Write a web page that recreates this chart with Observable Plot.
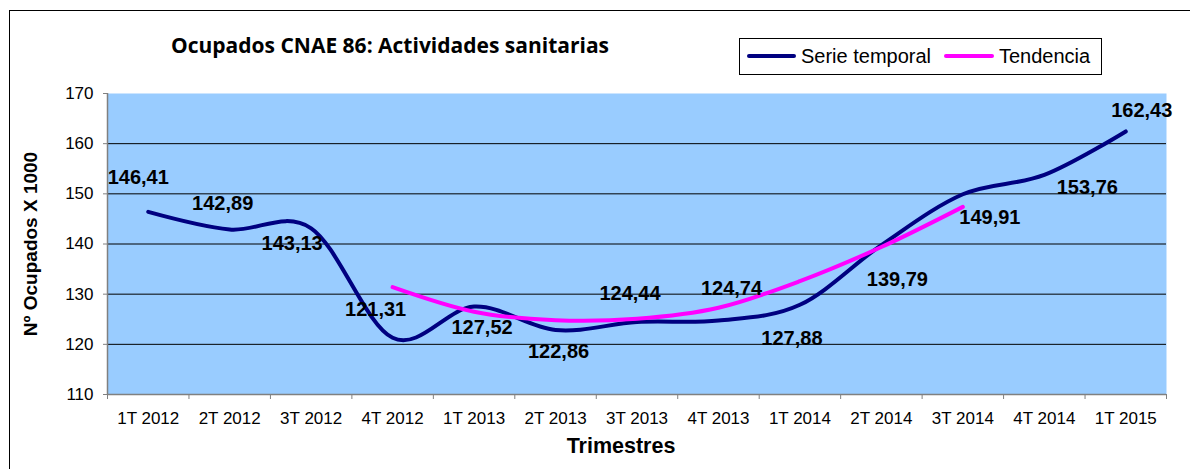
<!DOCTYPE html>
<html>
<head>
<meta charset="utf-8">
<script src="https://cdn.jsdelivr.net/npm/d3@7"></script>
<script src="https://cdn.jsdelivr.net/npm/@observablehq/plot@0.6"></script>
<style>
  html, body { margin: 0; padding: 0; background: #fff; overflow: hidden; }
  #wrap { position: relative; width: 1190px; height: 469px; overflow: hidden; font-family: "Liberation Sans", Arial, sans-serif; }
  #border { position: absolute; left: 9px; top: 10px; width: 1300px; height: 600px; border: 1.5px solid #000; box-sizing: border-box; }
  #chart { position: absolute; left: 0; top: 0; }
  #title { position: absolute; left: 390px; top: 32px; transform: translateX(-50%); white-space: nowrap;
           font-family: "Open Sans", Lato, sans-serif; font-weight: bold; font-size: 21px; line-height: 26px; color: #000; }
  #legend { position: absolute; left: 739px; top: 38px; width: 363px; height: 37px; border: 1px solid #000; background: #fff; box-sizing: border-box; }
  .sw { position: absolute; top: 15px; height: 4px; border-radius: 2px; }
  .lt { position: absolute; top: 5px; font-size: 20px; line-height: 24px; color: #000; white-space: nowrap; }
</style>
</head>
<body>
<div id="wrap">
  <div id="border"></div>
  <div id="chart"></div>
  <div id="title">Ocupados CNAE 86: Actividades sanitarias</div>
  <div id="legend">
    <div class="sw" style="left:7px;width:49px;background:#000080"></div>
    <div class="lt" style="left:61px">Serie temporal</div>
    <div class="sw" style="left:204px;width:50px;background:#FF00FF"></div>
    <div class="lt" style="left:259px">Tendencia</div>
  </div>
</div>
<script>
const categories = ["1T 2012","2T 2012","3T 2012","4T 2012","1T 2013","2T 2013","3T 2013","4T 2013","1T 2014","2T 2014","3T 2014","4T 2014","1T 2015"];
const serieTemporal = [146.41,142.89,143.13,121.31,127.52,122.86,124.44,124.74,127.88,139.79,149.91,153.76,162.43];
const tendenciaCategories = ["4T 2012","1T 2013","2T 2013","3T 2013","4T 2013","1T 2014","2T 2014","3T 2014"];
const tendencia = [131.4,126.5,124.8,125.1,127.3,132.6,139.4,147.4];
const yTicks = [110,120,130,140,150,160,170];

const serieData = categories.map((c, i) => ({i, c, v: serieTemporal[i]}));
const trendData = tendenciaCategories.map((c, j) => ({i: categories.indexOf(c), c, v: tendencia[j]}));

// label nudges (dx, dy) per point, in pixels
const nudge = [[-10,-34],[-7,-26],[-19,15],[-17,-28],[8,21],[3,22],[-7,-28],[13,-32],[-8,34],[16,35],[27,23],[43,13],[16,-21]];
const fmt = v => v.toFixed(2).replace(".", ",");

const labelMarks = serieData.map((d, k) => Plot.text([d], {
  x: "i", y: "v", text: e => fmt(e.v), dx: nudge[k][0], dy: nudge[k][1],
  fontSize: 20, fontWeight: "bold", fill: "#000", textAnchor: "middle", lineAnchor: "middle"
}));

const chart = Plot.plot({
  width: 1190, height: 469,
  marginLeft: 107, marginRight: 24, marginTop: 93, marginBottom: 75,
  x: {type: "linear", domain: [-0.5, 12.5]},
  y: {domain: [110, 170]},
  style: {fontFamily: "'Liberation Sans', Arial, sans-serif", background: "transparent", overflow: "visible", color: "#000"},
  marks: [
    Plot.frame({fill: "#99CCFF", stroke: "none"}),
    Plot.ruleY(yTicks.filter(t => t > 110 && t < 170), {stroke: "#000", strokeWidth: 1}),
    Plot.axisY({ticks: yTicks, tickSize: 4, tickPadding: 10, fontSize: 17, stroke: "#808080", fill: "#000", label: null, tickFormat: d => String(d)}),
    Plot.axisX({ticks: d3.range(-0.5, 13, 1), tickSize: 5, tickFormat: () => "", stroke: "#808080", label: null}),
    Plot.axisX({ticks: d3.range(13), tickSize: 0, tickPadding: 17, fontSize: 17, fill: "#000", tickFormat: i => categories[i], label: null}),
    Plot.ruleX([-0.5], {stroke: "#808080", strokeWidth: 1.5}),
    Plot.ruleY([110], {stroke: "#808080", strokeWidth: 1.5}),
    Plot.line(serieData, {x: "i", y: "v", stroke: "#000080", strokeWidth: 4, curve: "cardinal", tension: 0, strokeLinecap: "round", strokeLinejoin: "round"}),
    Plot.line(trendData, {x: "i", y: "v", stroke: "#FF00FF", strokeWidth: 4, curve: "cardinal", tension: 0, strokeLinecap: "round", strokeLinejoin: "round"}),
    ...labelMarks,
    Plot.text(["Nº Ocupados X 1000"], {text: d => d, frameAnchor: "left", rotate: -90, dx: -77, textAnchor: "middle", lineAnchor: "middle", fontSize: 19, fontWeight: "bold", fill: "#000"}),
    Plot.text(["Trimestres"], {text: d => d, frameAnchor: "bottom", dx: -16, dy: 52, textAnchor: "middle", lineAnchor: "middle", fontSize: 21.5, fontWeight: "bold", fill: "#000"})
  ]
});
document.getElementById("chart").appendChild(chart);
</script>
</body>
</html>
